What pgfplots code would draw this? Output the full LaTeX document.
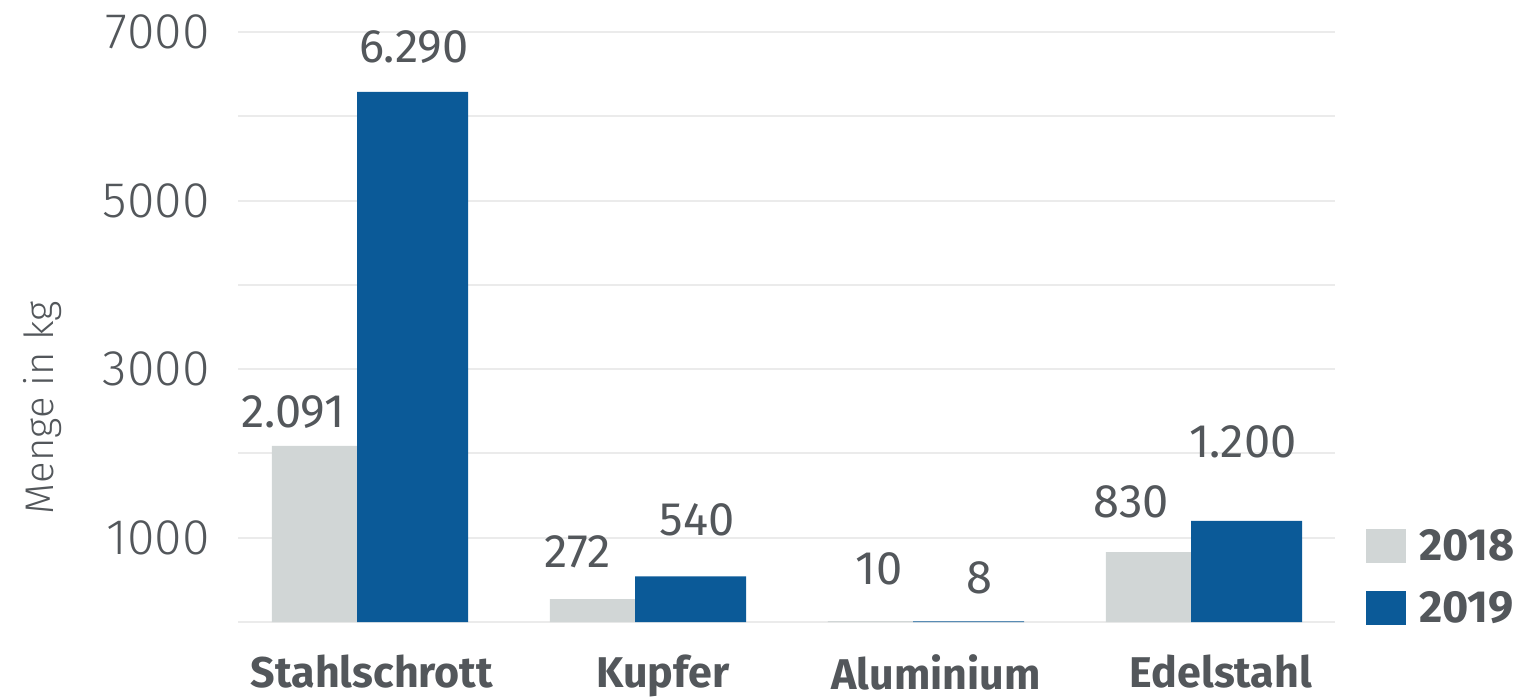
\documentclass[border=0pt]{standalone}
\usepackage{pgfplots}
\pgfplotsset{compat=1.18}
\usepackage{pgfplotstable}
\usepackage{fontspec}
\setmainfont{Fira Sans}
\newfontfamily\lightfont{Fira Sans Light}

\definecolor{txtgray}{HTML}{53575B}
\definecolor{bargray}{HTML}{D1D6D6}
\definecolor{barblue}{HTML}{0B5A98}
\definecolor{gridgray}{HTML}{EBEBEB}

% Menge in kg je Material; dx/dy: Lage der Wertbeschriftung (pt)
\pgfplotstableread{
x y lab dx dy
0 2091 2.091 -44.5 8.5
1 272  272   -41.0 15.4
2 10   10    -29.5 18
3 830  830   -42.5 17
}\jahrA
\pgfplotstableread{
x y lab dx dy
0 6290 6.290 16.0 14
1 540  540   18.5 20
2 8    8     20.5 13.5
3 1200 1.200 13.5 31
}\jahrB

\begin{document}
\begin{tikzpicture}
\begin{axis}[
  name=ax,
  scale only axis,
  width=548.5pt, height=295pt,
  xmin=-0.518, xmax=3.428,
  ymin=0, ymax=7000,
  axis line style={draw=none},
  major tick length=0pt,
  xtick={-0.036,1.011,1.993,3.018},
  xticklabels={Stahlschrott,Kupfer,Aluminium,Edelstahl},
  xticklabel style={anchor=north, inner sep=0pt, yshift=-16pt,
    font=\bfseries\fontsize{21.5}{24}\selectfont, text=txtgray},
  ytick={0,1000,...,7000},
  yticklabels={,1000,,3000,,5000,,7000},
  yticklabel style={anchor=east, inner sep=0pt, xshift=-14pt,
    font=\lightfont\fontsize{25}{28}\selectfont, text=txtgray},
  ymajorgrids,
  xmajorgrids=false,
  major grid style={gridgray, line width=1pt},
  ylabel={Menge in kg},
  ylabel style={at={(axis description cs:-0.178,0.363)}, anchor=center,
    font=\lightfont\fontsize{20}{24}\selectfont, text=txtgray},
  clip=false,
  nodes near coords,
  point meta=explicit symbolic,
  visualization depends on={\thisrow{dx} \as \labdx},
  visualization depends on={\thisrow{dy} \as \labdy},
  every node near coord/.append style={anchor=south, inner sep=0pt,
    xshift=\labdx pt, yshift=\labdy pt,
    font=\fontsize{23.5}{26}\selectfont, text=txtgray},
  legend style={at={(axis description cs:1.028,0.158)}, anchor=north west,
    draw=none, fill=none, inner sep=0pt, row sep=14pt, column sep=6.5pt,
    font=\bfseries\fontsize{22.5}{24}\selectfont, text=txtgray,
    nodes={inner sep=0pt}},
  legend cell align=left,
]
\addplot[ybar, fill=bargray, draw=none, bar width=42.5pt, bar shift=-33.8pt,
  legend image code/.code={\fill[bargray] (0pt,-8.5pt) rectangle (20pt,8.5pt);}]
  table[x=x, y=y, meta=lab] {\jahrA};
\addlegendentry{2018}
\addplot[ybar, fill=barblue, draw=none, bar width=55.6pt, bar shift=15.3pt,
  legend image code/.code={\fill[barblue] (0pt,-8.5pt) rectangle (20pt,8.5pt);}]
  table[x=x, y=y, meta=lab] {\jahrB};
\addlegendentry{2019}
\end{axis}
\pgfresetboundingbox
\path (ax.south west) ++(-119pt,-38pt) rectangle ++(769pt,349pt);
\end{tikzpicture}
\end{document}
